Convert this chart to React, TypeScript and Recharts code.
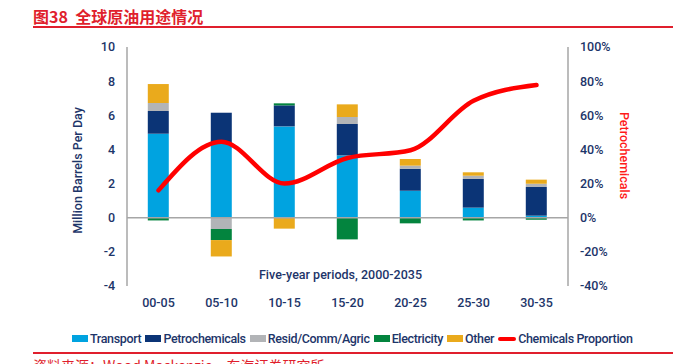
import React from "react";
import {
  ComposedChart,
  Bar,
  Line,
  XAxis,
  YAxis,
  ReferenceLine,
} from "recharts";

const periods = ["00-05", "05-10", "10-15", "15-20", "20-25", "25-30", "30-35"];
const transport = [4.92, 4.34, 5.35, 3.65, 1.58, 0.59, 0.12];
const petrochemicals = [1.33, 1.81, 1.23, 1.84, 1.29, 1.68, 1.68];
const resid = [0.47, -0.66, 0, 0.41, 0.18, 0.19, 0.19];
const electricity = [-0.16, -0.65, 0.12, -1.27, -0.33, -0.16, -0.12];
const other = [1.11, -0.96, -0.64, 0.74, 0.39, 0.2, 0.24];
const chemShare = [16, 44.5, 20, 35, 39.5, 68.5, 77.7];

const leftTicks = [-4, -2, 0, 2, 4, 6, 8, 10];
const rightTicks = [-40, -20, 0, 20, 40, 60, 80, 100];

const NAVY = "#1d3569";
const RED = "#e01f2d";
const FONT = "Roboto, 'Noto Sans', sans-serif";

const series = [
  { key: "transport", name: "Transport", color: "#00a3e0" },
  { key: "petrochemicals", name: "Petrochemicals", color: "#0b3476" },
  { key: "resid", name: "Resid/Comm/Agric", color: "#b2b4b7" },
  { key: "electricity", name: "Electricity", color: "#03843e" },
  { key: "other", name: "Other", color: "#eaaa1c" },
];

const data = periods.map((p, i) => ({
  period: p,
  transport: transport[i],
  petrochemicals: petrochemicals[i],
  resid: resid[i],
  electricity: electricity[i],
  other: other[i],
  share: chemShare[i],
}));

const tickStyle = { fontSize: 12.5, fill: NAVY, fontFamily: FONT, fontWeight: 500 };

function LeftTitle(props: any) {
  const vb = props.viewBox || {};
  const x = vb.x + 12;
  const y = vb.y + vb.height / 2 + 4;
  return (
    <text
      x={x}
      y={y}
      transform={`rotate(-90 ${x} ${y})`}
      textAnchor="middle"
      dominantBaseline="middle"
      fill={NAVY}
      fontSize={12.5}
      fontWeight={500}
      fontFamily={FONT}
    >
      Million Barrels Per Day
    </text>
  );
}

function RightTitle(props: any) {
  const vb = props.viewBox || {};
  const x = vb.x + 55;
  const y = vb.y + vb.height / 2 - 11;
  return (
    <text
      x={x}
      y={y}
      transform={`rotate(90 ${x} ${y})`}
      textAnchor="middle"
      dominantBaseline="middle"
      fill="#ff1a1a"
      fontSize={12.5}
      fontWeight={500}
      fontFamily={FONT}
    >
      Petrochemicals
    </text>
  );
}

function BottomTitle(props: any) {
  const vb = props.viewBox || {};
  return (
    <text
      x={vb.x + vb.width / 2 - 7}
      y={vb.y - 7}
      textAnchor="middle"
      fill={NAVY}
      fontSize={12.5}
      fontWeight={500}
      fontFamily={FONT}
    >
      Five-year periods, 2000-2035
    </text>
  );
}

export default function App() {
  return (
    <div style={{ position: "relative", width: 687, height: 364, overflow: "hidden", background: "#fff" }}>
      <style>{"body{margin:0}"}</style>
      <div
        style={{
          position: "absolute",
          left: 33,
          top: 4,
          fontFamily: "'Noto Sans CJK SC', sans-serif",
          fontWeight: 700,
          fontSize: 16,
          color: RED,
          whiteSpace: "pre",
        }}
      >
        {"图38  全球原油用途情况"}
      </div>
      <div style={{ position: "absolute", left: 33, top: 26, width: 640, height: 2, background: RED }} />

      <div style={{ position: "absolute", left: 0, top: 0 }}>
        <ComposedChart
          width={687}
          height={364}
          data={data}
          stackOffset="sign"
          barCategoryGap="33%"
          margin={{ top: 47, right: 59, bottom: 48, left: 67 }}
        >
          <XAxis
            dataKey="period"
            axisLine={false}
            tickLine={false}
            tick={tickStyle}
            tickMargin={6}
            height={30}
            interval={0}
            label={<BottomTitle />}
          />
          <YAxis
            yAxisId="left"
            domain={[-4, 10]}
            ticks={leftTicks}
            width={60}
            axisLine={{ stroke: "#a6a6a6", strokeWidth: 1.5 }}
            tickLine={false}
            tick={tickStyle}
            tickMargin={6}
            label={<LeftTitle />}
          />
          <YAxis
            yAxisId="right"
            orientation="right"
            domain={[-40, 100]}
            ticks={rightTicks}
            width={60}
            axisLine={{ stroke: "#a6a6a6", strokeWidth: 1.5 }}
            tickLine={false}
            tick={tickStyle}
            tickMargin={6}
            tickFormatter={(v: number) => `${v}%`}
            label={<RightTitle />}
          />
          {series.map((s) => (
            <Bar
              key={s.key}
              yAxisId="left"
              dataKey={s.key}
              name={s.name}
              stackId="a"
              fill={s.color}
              isAnimationActive={false}
            />
          ))}
          <ReferenceLine yAxisId="left" y={0} stroke="#a6a6a6" strokeWidth={1.5} />
          <Line
            yAxisId="right"
            type="monotone"
            dataKey="share"
            name="Chemicals Proportion"
            stroke="#ff0000"
            strokeWidth={4.5}
            strokeLinecap="round"
            dot={false}
            isAnimationActive={false}
          />
        </ComposedChart>
      </div>

      <div
        style={{
          position: "absolute",
          left: 72,
          top: 331,
          display: "flex",
          alignItems: "center",
          fontFamily: FONT,
          fontSize: 12.5,
          fontWeight: 500,
          letterSpacing: -0.35,
          color: NAVY,
          whiteSpace: "nowrap",
        }}
      >
        {series.map((s) => (
          <span key={s.key} style={{ display: "flex", alignItems: "center", marginRight: 4 }}>
            <span style={{ width: 16, height: 7, background: s.color, display: "inline-block", marginRight: 2 }} />
            {s.name}
          </span>
        ))}
        <span style={{ display: "flex", alignItems: "center" }}>
          <span
            style={{ width: 18, height: 4, borderRadius: 2, background: "#ff0000", display: "inline-block", marginRight: 2 }}
          />
          Chemicals Proportion
        </span>
      </div>

      <div style={{ position: "absolute", left: 33, top: 352, width: 640, height: 1.5, background: RED }} />
      <div
        style={{
          position: "absolute",
          left: 33,
          top: 355,
          fontFamily: "'Noto Sans CJK SC', sans-serif",
          fontSize: 14,
          color: RED,
          whiteSpace: "pre",
        }}
      >
        {"资料来源：Wood Mackenzie，东海证券研究所"}
      </div>
    </div>
  );
}
